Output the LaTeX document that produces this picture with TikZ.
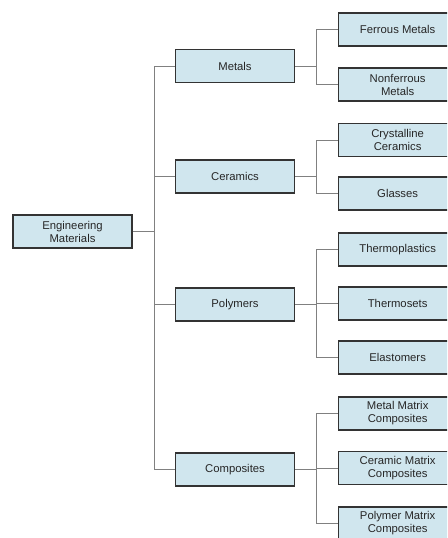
\documentclass[tikz,border=0pt]{standalone}
\usepackage{fontspec}
\setmainfont{Liberation Sans}
\begin{document}
\begin{tikzpicture}[x=1pt,y=-1pt,
  box/.style={draw=black!80,line width=1.3pt,fill=boxblue,minimum width=119pt,minimum height=33pt,
    inner sep=1pt,align=center,font=\fontsize{11.3}{13}\selectfont,text=black!85},
  conn/.style={draw=black!50,line width=0.9pt}]
\definecolor{boxblue}{HTML}{D0E6EE}
\useasboundingbox (0,0) rectangle (447,538);
\clip (0,0) rectangle (447,538);
\node[box] (eng) at (72.5,231.5) {Engineering\\Materials};
\node[box] (metals) at (235,66) {Metals};
\node[box] (ceram) at (235,176.5) {Ceramics};
\node[box] (poly) at (235,304.5) {Polymers};
\node[box] (comp) at (235,469.5) {Composites};
\node[box,anchor=west] (fer) at (337.5,29.5) {Ferrous Metals};
\node[box,anchor=west] (nonfer) at (337.5,84.5) {Nonferrous\\Metals};
\node[box,anchor=west] (cryst) at (337.5,140) {Crystalline\\Ceramics};
\node[box,anchor=west] (glass) at (337.5,193.5) {Glasses};
\node[box,anchor=west] (thermop) at (337.5,249.5) {Thermoplastics};
\node[box,anchor=west] (thermos) at (337.5,303.5) {Thermosets};
\node[box,anchor=west] (elast) at (337.5,357.5) {Elastomers};
\node[box,anchor=west] (mmc) at (337.5,413.5) {Metal Matrix\\Composites};
\node[box,anchor=west] (cmc) at (337.5,468) {Ceramic Matrix\\Composites};
\node[box,anchor=west] (pmc) at (337.5,523.5) {Polymer Matrix\\Composites};
% connectors
\coordinate (s1) at (154,231.5);
\draw[conn] (eng.east) -- (s1);
\draw[conn] (metals.west) -| (s1);
\draw[conn] (comp.west) -| (s1);
\draw[conn] (ceram.west) -- (ceram.west -| s1);
\draw[conn] (poly.west) -- (poly.west -| s1);
\foreach \p/\a/\b in {metals/fer/nonfer, ceram/cryst/glass, poly/thermop/elast, comp/mmc/pmc}{
  \coordinate (j\p) at ([xshift=21pt]\p.east);
  \draw[conn] (\p.east) -- (j\p);
  \draw[conn] (\a.west) -| (j\p) |- (\b.west);
}
\draw[conn] (thermos.west) -- (thermos.west -| jpoly);
\draw[conn] (cmc.west) -- (cmc.west -| jcomp);
\end{tikzpicture}
\end{document}
